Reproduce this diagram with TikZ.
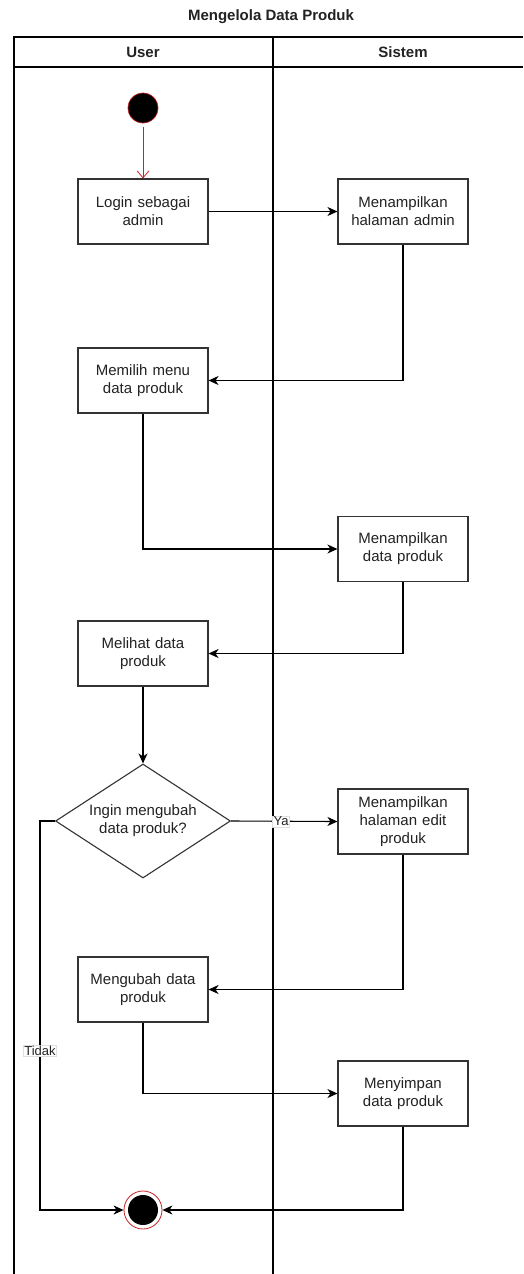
\documentclass[tikz,border=0pt]{standalone}
\usepackage{fontspec}
\setmainfont{Liberation Sans}
\usetikzlibrary{arrows.meta,shapes.geometric}
\definecolor{boxline}{HTML}{333333}
\definecolor{txt}{HTML}{222222}
\definecolor{startred}{HTML}{CC2222}
\tikzset{
  actbox/.style={draw=boxline,line width=1.1pt,fill=white,minimum width=130pt,minimum height=65pt,
    align=center,text width=120pt,font=\fontsize{15}{18}\selectfont,text=txt,inner sep=0pt},
  decbox/.style={draw=boxline,line width=1.1pt,fill=white,diamond,minimum width=175pt,minimum height=114pt,
    aspect=1.535,align=center,font=\fontsize{15}{18}\selectfont,text=txt,inner sep=0pt},
  flow/.style={line width=1.1pt,-{Stealth[length=10pt,width=9pt,inset=3pt]}},
  lbl/.style={fill=white,draw=gray!25,line width=0.4pt,inner sep=1pt,font=\fontsize{13}{15}\selectfont,text=txt},
  lane/.style={line width=1.1pt,draw=black}
}
\begin{document}
\begin{tikzpicture}[x=1pt,y=-1pt]
\useasboundingbox (0,0) rectangle (523,1274);
% title
\node[font=\bfseries\fontsize{15}{18}\selectfont,text=txt] (title) at (271,17) {Mengelola Data Produk};
% pool
\draw[lane] (14,1274) -- (14,37) -- (523,37);
\draw[lane] (14,67) -- (523,67);
\draw[lane] (273,37) -- (273,1274);
\node[font=\bfseries\fontsize{15}{18}\selectfont,text=txt] (huser) at (143,52) {User};
\node[font=\bfseries\fontsize{15}{18}\selectfont,text=txt] (hsis) at (403,52) {Sistem};
% start
\node[circle,fill=black,draw=startred,line width=0.7pt,minimum size=30pt,inner sep=0pt] (start) at (143,108) {};
% activities
\node[actbox] (login) at (143,211.5) {Login sebagai\\admin};
\node[actbox] (admin) at (403,211.5) {Menampilkan\\halaman admin};
\node[actbox] (menu) at (143,380.5) {Memilih menu\\data produk};
\node[actbox] (tampil) at (403,549) {Menampilkan\\data produk};
\node[actbox] (lihat) at (143,653.5) {Melihat data\\produk};
\node[decbox] (dec) at (143,821) {Ingin mengubah\\data produk?};
\node[actbox] (edit) at (403,821.5) {Menampilkan\\halaman edit\\produk};
\node[actbox] (ubah) at (143,989.5) {Mengubah data\\produk};
\node[actbox] (simpan) at (403,1093.5) {Menyimpan\\data produk};
% end
\node[circle,draw=startred,line width=0.8pt,fill=white,minimum size=38pt,inner sep=0pt] (end) at (143,1210) {};
\node[circle,fill=black,minimum size=30pt,inner sep=0pt] (endin) at (143,1210) {};
% connectors
\draw[startred,line width=0.8pt,shorten <=4pt,-{Straight Barb[length=7pt,width=12pt]}] (start) -- (login);
\draw[flow] (login) -- (admin);
\draw[flow] (admin.south) |- (menu.east);
\draw[flow] (menu.south) |- (tampil.west);
\draw[flow] (tampil.south) |- (lihat.east);
\draw[flow] (lihat) -- (dec);
\draw[flow] (dec.east) -- node[lbl,pos=0.47] (ya) {Ya} (edit.west);
\draw[flow] (edit.south) |- (ubah.east);
\draw[flow] (ubah.south) |- (simpan.west);
\coordinate (tl) at (40,821);
\coordinate (tb) at (40,1210);
\draw[flow] (dec.west) -- (tl) -- node[lbl,pos=0.59] (tidak) {Tidak} (tb) -- (end.west);
\draw[flow] (simpan.south) |- (end.east);
\end{tikzpicture}
\end{document}
